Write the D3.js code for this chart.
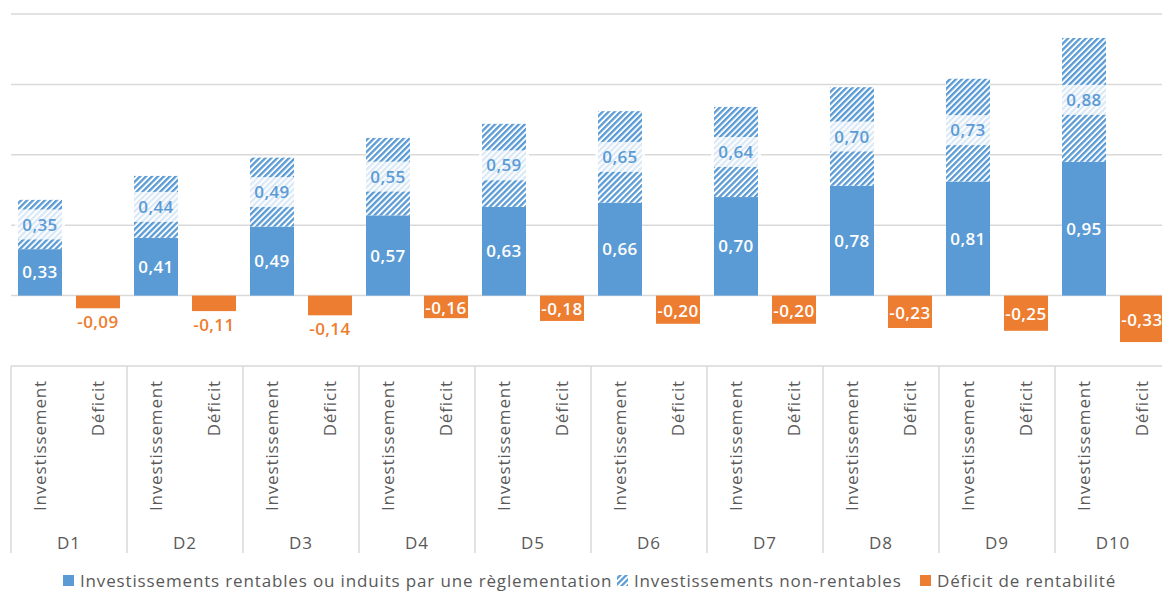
<!DOCTYPE html>
<html><head><meta charset="utf-8">
<script src="https://cdn.jsdelivr.net/npm/d3@7"></script>
<style>
html,body{margin:0;padding:0;background:#fff;overflow:hidden}
svg{display:block;font-family:"Open Sans","Noto Sans",sans-serif}
</style></head><body>
<svg id="c" width="1162" height="594"></svg>
<script>
const deciles = ["D1","D2","D3","D4","D5","D6","D7","D8","D9","D10"];
const subCats = ["Investissement","Déficit"];
const rentables = [0.33,0.41,0.49,0.57,0.63,0.66,0.70,0.78,0.81,0.95];
const nonRentables = [0.35,0.44,0.49,0.55,0.59,0.65,0.64,0.70,0.73,0.88];
const deficit = [-0.09,-0.11,-0.14,-0.16,-0.18,-0.20,-0.20,-0.23,-0.25,-0.33];
const yTicks = [-0.5,0,0.5,1.0,1.5,2.0];
const legendLabels = ["Investissements rentables ou induits par une règlementation","Investissements non-rentables","Déficit de rentabilité"];

const BLUE="#5B9BD5", ORANGE="#ED7D31", GRID="#d9d9d9", TXT="#595959";
const fmt = v => d3.format(".2f")(v).replace("−","-").replace(".",",");

const svg = d3.select("#c");
const defs = svg.append("defs");
const pat = defs.append("pattern").attr("id","hatch").attr("patternUnits","userSpaceOnUse")
  .attr("width",4.2).attr("height",4.2).attr("patternTransform","rotate(45)");
pat.append("rect").attr("width",4.2).attr("height",4.2).attr("fill","#fff");
pat.append("rect").attr("width",2.3).attr("height",4.2).attr("fill",BLUE);

const y = d3.scaleLinear().domain([-0.5,2.0]).range([366,14]);
const x = d3.scaleBand().domain(deciles).range([11,1171]).padding(0);
const xs = d3.scaleBand().domain(subCats).range([0,x.bandwidth()]).paddingInner(0.2414).paddingOuter(0.1207);

// gridlines
svg.append("g").selectAll("line").data(yTicks.filter(t=>t>-0.5)).join("line")
  .attr("x1",11).attr("x2",1162).attr("y1",d=>y(d)).attr("y2",d=>y(d))
  .attr("stroke",GRID).attr("stroke-width",1.5);

// category axis frame
const axisTop = y(-0.5);
svg.append("line").attr("x1",11).attr("x2",1162).attr("y1",axisTop).attr("y2",axisTop).attr("stroke",GRID).attr("stroke-width",1.5);
svg.append("g").selectAll("line").data(deciles).join("line")
  .attr("x1",d=>x(d)).attr("x2",d=>x(d)).attr("y1",axisTop).attr("y2",553)
  .attr("stroke",GRID).attr("stroke-width",1.5);

const data = deciles.map((d,i)=>({d, r:rentables[i], n:nonRentables[i], f:deficit[i]}));
const g = svg.append("g");
const bw = xs.bandwidth();

// solid bars
g.selectAll(".r").data(data).join("rect")
  .attr("x",d=>x(d.d)+xs("Investissement")).attr("width",bw)
  .attr("y",d=>y(d.r)).attr("height",d=>y(0)-y(d.r)).attr("fill",BLUE);
// hatched bars
g.selectAll(".n").data(data).join("rect")
  .attr("x",d=>x(d.d)+xs("Investissement")).attr("width",bw)
  .attr("y",d=>y(d.r+d.n)).attr("height",d=>y(d.r)-y(d.r+d.n)).attr("fill","url(#hatch)");
// deficit bars
g.selectAll(".f").data(data).join("rect")
  .attr("x",d=>x(d.d)+xs("Déficit")).attr("width",bw)
  .attr("y",y(0)).attr("height",d=>y(d.f)-y(0)).attr("fill",ORANGE);

// labels
const lab = svg.append("g").attr("font-size",17).attr("font-weight",600).attr("letter-spacing",0.4).attr("text-anchor","middle");
lab.selectAll(".lr").data(data).join("text")
  .attr("x",d=>x(d.d)+xs("Investissement")+bw/2).attr("y",d=>(y(0)+y(d.r))/2)
  .attr("dy","0.36em").attr("fill","#fff").text(d=>fmt(d.r));
const hl = lab.selectAll(".ln").data(data).join("g")
  .attr("transform",d=>`translate(${x(d.d)+xs("Investissement")+bw/2},${(y(d.r)+y(d.r+d.n))/2})`);
hl.append("rect").attr("x",-25).attr("width",50).attr("y",-15).attr("height",30).attr("fill","#fff").attr("opacity",0.78);
hl.append("text").attr("dy","0.36em").attr("fill",BLUE).text(d=>fmt(d.n));
lab.selectAll(".lf").data(data).join("text")
  .attr("x",d=>x(d.d)+xs("Déficit")+bw/2)
  .attr("y",d=>{const h=y(d.f)-y(0); return h<21 ? y(d.f)+14 : (y(0)+y(d.f))/2+1;})
  .attr("dy","0.36em").attr("fill",d=>(y(d.f)-y(0))<21?ORANGE:"#fff").text(d=>fmt(d.f));

// axis labels
const ax = svg.append("g").attr("font-size",17).attr("letter-spacing",0.85).attr("fill",TXT);
deciles.forEach(dc=>{
  subCats.forEach(s=>{
    ax.append("text").attr("transform",`translate(${x(dc)+xs(s)+bw/2+6},380) rotate(-90)`)
      .attr("text-anchor","end").text(s);
  });
  ax.append("text").attr("x",x(dc)+x.bandwidth()/2).attr("y",543).attr("dy","0.36em")
    .attr("text-anchor","middle").text(dc);
});

// legend
const lg = svg.append("g").attr("font-size",17).attr("letter-spacing",0.85).attr("fill",TXT);
const legFills = [BLUE,"url(#hatch)",ORANGE];
const legX = [63,617,920];
legendLabels.forEach((t,i)=>{
  lg.append("rect").attr("x",legX[i]).attr("y",575).attr("width",11).attr("height",11).attr("fill",legFills[i]);
  lg.append("text").attr("x",legX[i]+17).attr("y",581).attr("dy","0.36em").text(t);
});
</script></body></html>
